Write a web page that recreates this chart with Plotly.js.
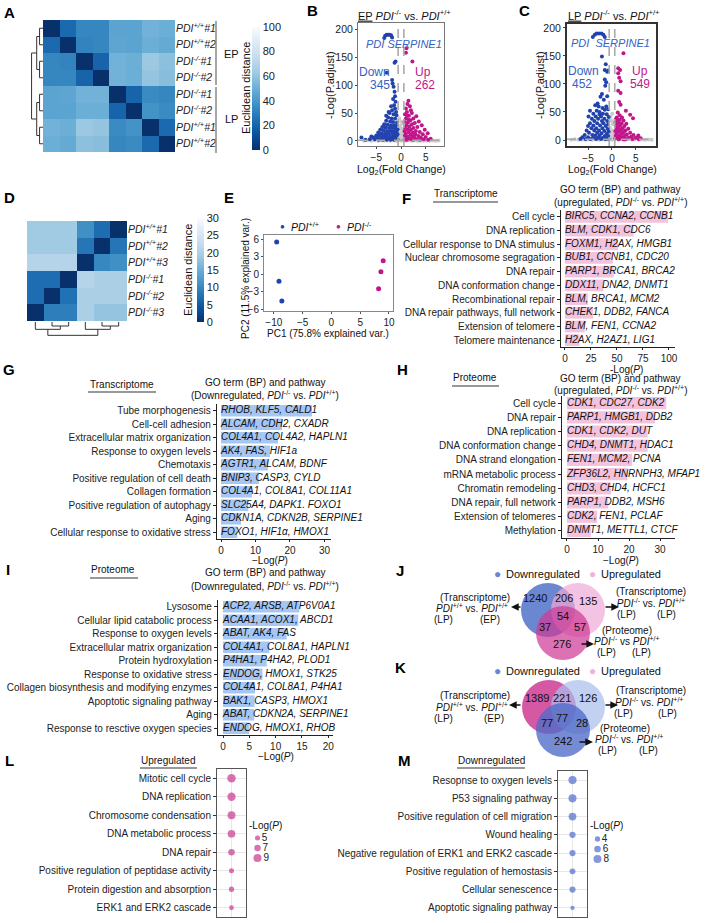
<!DOCTYPE html>
<html><head><meta charset="utf-8">
<script src="https://cdn.plot.ly/plotly-3.0.1.min.js"></script>
<style>html,body{margin:0;padding:0;background:#fff}#chart{width:709px;height:923px}</style>
</head><body><div id="chart"></div>
<script>
// ---------------- DATA ----------------
const heatA_labels = ['<i>PDI<sup>+/+</sup>#1</i>','<i>PDI<sup>+/+</sup>#2</i>','<i>PDI<sup>-/-</sup>#1</i>','<i>PDI<sup>-/-</sup>#2</i>','<i>PDI<sup>-/-</sup>#1</i>','<i>PDI<sup>-/-</sup>#2</i>','<i>PDI<sup>+/+</sup>#1</i>','<i>PDI<sup>+/+</sup>#2</i>'];
const heatA_z = [
 [0,22,33,33,45,45,52,50],
 [22,0,32,33,46,45,50,48],
 [33,32,0,20,52,50,62,58],
 [33,33,20,0,52,50,60,57],
 [45,46,52,52,0,20,35,33],
 [45,45,50,50,20,0,38,35],
 [52,50,62,60,35,38,0,22],
 [50,48,58,57,33,35,22,0]];
const dendroA = [[0,1,0.3],[2,3,0.3],[4,5,0.3],[6,7,0.3],[8,9,0.55],[10,11,0.55],[12,13,1.0]];

const heatD_labels = ['<i>PDI<sup>+/+</sup>#1</i>','<i>PDI<sup>+/+</sup>#2</i>','<i>PDI<sup>+/+</sup>#3</i>','<i>PDI<sup>-/-</sup>#1</i>','<i>PDI<sup>-/-</sup>#2</i>','<i>PDI<sup>-/-</sup>#3</i>'];
const heatD_z = [
 [19,19,19,11,7,0],
 [19,19,19,8,0,8],
 [21,21,21,0,10,11],
 [7,7,0,21,20,20],
 [7,0,7.5,20,20,20],
 [0,9,9,20,18,18]];
const dendroD = [[1,2,0.3],[0,6,0.55],[4,5,0.3],[3,8,0.55],[7,9,1.0]];

// volcano B (EP)
const volB_down = [[-3.4,184],[-3.2,188],[-2.9,190],[-2.6,190],[-2.3,190],[-2.0,189],[-1.8,185],
 [-1.1,142],[-1.3,140],[-2.9,122],[-1.8,109],[-1.7,103],[-1.5,97],[-1.3,88],[-1.2,80],[-1.6,75],[-1.1,70],[-1.4,64],[-2.0,62],[-1.2,58],[-1.8,55],[-1.0,52],[-2.3,50],[-1.5,48],[-0.9,46],
 [-2.6,42],[-1.9,40],[-1.2,40],[-3.0,36],[-2.2,35],[-1.6,34],[-0.8,33],[-3.4,30],[-2.7,29],[-2.0,28],[-1.3,28],[-0.9,27],[-3.8,25],[-3.1,24],[-2.4,23],[-1.7,23],[-1.1,22],[-0.7,21],
 [-4.2,20],[-3.5,19],[-2.8,18],[-2.1,18],[-1.5,17],[-0.9,16],[-4.6,15],[-3.9,14],[-3.2,14],[-2.5,13],[-1.8,13],[-1.2,12],[-0.7,12],[-5.0,10],[-4.3,10],[-3.6,9],[-2.9,9],[-2.2,8],[-1.5,8],[-0.9,7],
 [-5.6,6],[-4.8,6],[-4.0,5],[-3.3,5],[-2.6,4],[-1.9,4],[-1.2,4],[-0.7,3],[-6.3,3],[-5.3,3],[-4.5,2],[-3.7,2],[-2.9,2],[-2.1,2],[-1.4,2],[-8.0,6],[-7.2,2],[-6.0,8],[-3.0,45],[-2.5,52]];
const volB_up = [[1.1,166],[1.0,158],[2.3,142],[1.5,72],[1.3,66],[1.8,62],[1.0,58],[1.2,52],[2.2,50],[0.8,48],[1.6,45],[3.1,44],[2.5,40],[1.0,40],[1.9,37],[3.6,35],[0.7,34],[1.4,33],[2.8,32],[2.2,30],
 [4.2,28],[1.1,28],[1.7,26],[3.3,25],[0.8,24],[2.5,23],[4.8,20],[1.3,21],[2.0,20],[3.0,18],[0.7,18],[3.8,16],[1.6,16],[2.4,15],[5.4,14],[1.0,14],[4.4,12],[2.9,12],[1.9,11],[0.8,10],
 [3.5,9],[2.3,9],[1.3,8],[5.0,7],[4.0,6],[2.7,6],[1.7,5],[0.9,5],[6.0,4],[4.6,3],[3.2,3],[2.1,3],[1.2,2],[5.5,2],[3.8,2],[2.5,2],[0.7,2],[1.5,38],[2.0,55],[1.2,45]];
const volB_ns = [[-7.5,0.5],[-6.8,1.5],[-6.0,0.4],[-5.3,1.2],[-4.6,0.3],[-4.0,1.4],[-3.4,0.6],[-2.8,1.0],[-2.2,0.3],[-1.6,1.1],[-1.0,0.5],[-0.5,0.9],[0.0,0.4],[0.5,1.2],[1.0,0.3],[1.6,0.9],[2.2,0.5],[2.8,1.1],[3.4,0.2],[4.0,0.8],[4.6,0.4],[5.2,1.0],[5.8,0.3],[6.4,0.9],[7.0,0.4],[7.6,0.7],
 [-0.45,4],[-0.3,9],[-0.1,14],[0.2,6],[0.35,11],[-0.4,18],[0.1,22],[0.45,16],[-0.2,27],[0.3,31],[-0.5,24],[0.0,35],[-0.35,40],[0.25,3]];

// volcano C (LP)
const volC_down = [[-4.0,184],[-3.6,188],[-3.2,190],[-2.7,190],[-2.2,190],[-1.8,188],[-1.5,184],[-2.1,149],[-1.3,135],[-1.5,125],[-1.0,122],[-0.8,124],[-1.5,108],[-1.2,103],[-1.4,97],[-2.1,82],[-2.4,77],[-1.0,78],[-1.7,72],[-3.5,62],[-2.8,60],[-1.2,60],[-2.0,57],
 [-4.6,52],[-3.2,52],[-1.5,54],[-0.8,55],[-2.6,50],[-3.9,47],[-1.9,47],[-1.1,46],[-4.9,42],[-3.4,42],[-2.3,42],[-0.7,41],[-4.2,38],[-2.9,38],[-1.6,38],[-3.7,34],[-2.1,34],[-1.0,34],[-4.6,30],[-3.1,30],[-1.8,30],[-0.8,28],
 [-5.0,25],[-3.9,26],[-2.5,26],[-1.3,25],[-4.3,21],[-3.3,21],[-2.0,21],[-0.9,20],[-5.3,17],[-3.7,17],[-2.7,17],[-1.6,16],[-0.7,15],[-4.8,13],[-3.1,13],[-2.2,12],[-1.1,11],[-5.7,9],[-4.1,9],[-3.5,8],[-2.6,8],[-1.5,7],[-0.8,7],
 [-6.2,5],[-5.0,5],[-3.9,4],[-2.9,4],[-1.9,4],[-1.0,3],[-6.6,2],[-5.5,2],[-4.5,2],[-3.3,2],[-2.3,2],[-1.4,2],[-0.7,2],[-2.6,46],[-3.0,65]];
const volC_up = [[2.4,155],[1.3,128],[1.7,125],[1.3,119],[1.5,111],[1.8,105],[1.3,88],[1.8,84],[1.5,68],[1.8,63],[1.2,49],[2.9,52],[3.8,45],[4.4,39],[1.0,40],[0.8,37],[1.6,36],[2.4,35],[0.7,32],[1.3,31],[2.0,30],[3.0,29],
 [1.0,27],[1.7,26],[2.6,25],[0.8,23],[1.4,22],[2.2,21],[3.4,20],[1.1,19],[1.9,18],[2.8,17],[0.7,16],[1.5,15],[2.4,14],[3.8,13],[1.0,12],[2.0,11],[3.1,10],[4.5,9],[5.5,8],[0.8,8],[1.6,8],[2.6,7],[4.0,6],
 [1.2,5],[2.2,5],[3.4,4],[5.0,4],[6.0,3],[0.7,3],[1.8,3],[2.9,2],[4.3,2],[5.6,2],[1.4,1.5],[2.4,1.5],[1.2,34],[2.1,40],[1.6,44]];
const volC_ns = [[-8.5,0.6],[-7.8,1.4],[-7.0,0.3],[-6.2,1.1],[-5.5,0.5],[-4.8,1.3],[-4.1,0.4],[-3.4,0.9],[-2.7,0.3],[-2.0,1.2],[-1.3,0.5],[-0.6,1.0],[0.0,0.3],[0.6,1.1],[1.3,0.4],[2.0,0.9],[2.7,0.2],[3.4,1.2],[4.1,0.5],[4.8,0.8],[5.5,0.3],[6.2,1.0],[6.9,0.5],[7.6,0.9],[8.3,0.4],
 [-0.4,5],[-0.2,11],[0.1,17],[0.35,7],[-0.45,22],[0.2,28],[-0.1,34],[0.4,14],[-0.3,41],[0.05,47],[0.3,3],[-0.5,9]];
const FC_CUT = 0.58, P_CUT = 1.3;

// PCA (E)
const pcaWT_x = [-9.5,-9.1,-8.6], pcaWT_y = [5.5,-1.2,-4.6];
const pcaKO_x = [9.0,8.6,8.2],   pcaKO_y = [2.3,0.4,-2.5];

// GO bars
const F_terms = ['Cell cycle','DNA replication','Cellular response to DNA stimulus','Nuclear chromosome segragation','DNA repair','DNA conformation change','Recombinational repair','DNA repair pathways, full network','Extension of telomere','Telomere maintenance'];
const F_vals = [99,66,51,46,47,37,22,27,19,14];
const F_genes = ['BIRC5, CCNA2, CCNB1','BLM, CDK1, CDC6','FOXM1, H2AX, HMGB1','BUB1, CCNB1, CDC20','PARP1, BRCA1, BRCA2','DDX11, DNA2, DNMT1','BLM, BRCA1, MCM2','CHEK1, DDB2, FANCA','BLM, FEN1, CCNA2','H2AX, H2AZ1, LIG1'];

const G_terms = ['Tube morphogenesis','Cell-cell adhesion','Extracellular matrix organization','Response to oxygen levels','Chemotaxis','Positive regulation of cell death','Collagen formation','Positive regulation of autophagy','Aging','Cellular response to oxidative stress'];
const G_vals = [26.4,17.7,16.5,14.2,13.6,11,9,7.9,5.8,4.7];
const G_genes = ['RHOB, KLF5, CALD1','ALCAM, CDH2, CXADR','COL4A1, COL4A2, HAPLN1','AK4, FAS, HIF1a','AGTR1, ALCAM, BDNF','BNIP3, CASP3, CYLD','COL4A1, COL8A1, COL11A1','SLC25A4, DAPK1. FOXO1','CDKN1A, CDKN2B, SERPINE1','FOXO1, HIF1\u03b1, HMOX1'];

const H_terms = ['Cell cycle','DNA repair','DNA replication','DNA conformation change','DNA strand elongation','mRNA metabolic process','Chromatin remodeling','DNA repair, full network','Extension of telomeres','Methylation'];
const H_vals = [32,28.4,26,26,21,19.5,14.2,13.3,9.7,7.7];
const H_genes = ['CDK1, CDC27, CDK2','PARP1, HMGB1, DDB2','CDK1, CDK2, DUT','CHD4, DNMT1, HDAC1','FEN1, MCM2, PCNA','ZFP36L2, HNRNPH3, MFAP1','CHD3, CHD4, HCFC1','PARP1, DDB2, MSH6','CDK2, FEN1, PCLAF','DNMT1, METTL1, CTCF'];

const I_terms = ['Lysosome','Cellular lipid catabolic process','Response to oxygen levels','Extracellular matrix organization','Protein hydroxylation','Response to oxidative stress','Collagen biosynthesis and modifying enzymes','Apoptotic signaling pathway','Aging','Response to resctive oxygen species'];
const I_vals = [14.5,14.3,12.1,8.8,8.3,7.5,6.1,6.0,5.9,5.0];
const I_genes = ['ACP2, ARSB, ATP6V0A1','ACAA1, ACOX1, ABCD1','ABAT, AK4, FAS','COL4A1, COL8A1, HAPLN1','P4HA1, P4HA2, PLOD1','ENDOG, HMOX1, STK25','COL4A1, COL8A1, P4HA1','BAK1, CASP3, HMOX1','ABAT, CDKN2A, SERPINE1','ENDOG, HMOX1, RHOB'];

// Venn
const vennJ_counts = ['1240','206','135','54','37','57','276'];
const vennK_counts = ['1389','221','126','77','77','28','242'];

// Dot plots
const L_terms = ['Mitotic cell cycle','DNA replication','Chromosome condensation','DNA metabolic process','DNA repair','Positive regulation of peptidase activity','Protein digestion and absorption','ERK1 and ERK2 cascade'];
const L_vals = [9.6,9.3,8.8,8.6,7.0,5.0,5.4,4.6];
const L_legend = [5,7,9];
const M_terms = ['Resopnse to oxygen levels','P53 signaling pathway','Positive regulation of cell migration','Wound healing','Negative regulation of ERK1 and ERK2 cascade','Positive regulation of hemostasis','Cellular senescence','Apoptotic signaling pathway'];
const M_vals = [8.2,8.0,7.6,5.4,5.3,4.8,5.2,2.6];
const M_legend = [4,6,8];

// ---------------- STYLE / LAYOUT ----------------
const W=709, H=923;
const X = v => v/W, Y = v => 1 - v/H;
const FONT = 'Liberation Sans, Arial, Helvetica, sans-serif';
const BLUE='#2242ad', MAG='#c0168a', GREY='#c9c9c9';
const blues = [[0,'#08306b'],[0.125,'#08519c'],[0.25,'#2171b5'],[0.375,'#4292c6'],[0.5,'#6baed6'],[0.625,'#9ecae1'],[0.75,'#c6dbef'],[0.875,'#deebf7'],[1,'#f7fbff']];

const layout = {width:W,height:H,margin:{l:0,r:0,t:0,b:0},paper_bgcolor:'#fff',plot_bgcolor:'rgba(0,0,0,0)',
  showlegend:false,font:{family:FONT,size:10,color:'#111'},annotations:[],shapes:[]};
const traces = [];

function axes(n,x0,x1,y0,y1,xo,yo){
  const xk = n===1?'xaxis':'xaxis'+n, yk = n===1?'yaxis':'yaxis'+n;
  const base = {showgrid:false, zeroline:false, fixedrange:true, ticks:'', showticklabels:false, showline:false};
  layout[xk] = Object.assign({}, base, {domain:[X(x0),X(x1)], anchor: n===1?'y':'y'+n}, xo||{});
  layout[yk] = Object.assign({}, base, {domain:[Y(y1),Y(y0)], anchor: n===1?'x':'x'+n}, yo||{});
  return {xaxis: n===1?'x':'x'+n, yaxis: n===1?'y':'y'+n};
}
function T(x,y,text,o){ const f = Object.assign({size:10,color:'#111'}, (o&&o.font)||{});
  const a = Object.assign({xref:'paper',yref:'paper',x:X(x),y:Y(y),text,showarrow:false,xanchor:'center',yanchor:'middle'}, o||{}); a.font=f; layout.annotations.push(a); }
function ARR(tx,ty,sx,sy){ layout.annotations.push({xref:'paper',yref:'paper',x:X(tx),y:Y(ty),axref:'paper',ayref:'paper',ax:X(sx),ay:Y(sy),text:'',showarrow:true,arrowhead:2,arrowsize:1.1,arrowwidth:1.4,arrowcolor:'#111'}); }
function LN(x0,y0,x1,y1,color,w,dash){ layout.shapes.push({type:'line',xref:'paper',yref:'paper',x0:X(x0),y0:Y(y0),x1:X(x1),y1:Y(y1),line:{color,width:w,dash:dash||'solid'}}); }
function CIR(cx,cy,r,fill){ layout.shapes.push({type:'circle',xref:'paper',yref:'paper',x0:X(cx-r),x1:X(cx+r),y0:Y(cy+r),y1:Y(cy-r),fillcolor:fill,line:{width:0}}); }
function dendro(merges,n){ const pos=[...Array(n).keys()], ht=new Array(n).fill(0), h=[], p=[];
  merges.forEach(([a,b,hh])=>{ h.push(ht[a],hh,hh,ht[b],null); p.push(pos[a],pos[a],pos[b],pos[b],null); pos.push((pos[a]+pos[b])/2); ht.push(hh); });
  return {h,p}; }
const idx = n => [...Array(n).keys()];

// ---- A heatmap
let a = axes(1,43,175,20,152,{range:[-0.5,7.5]},{range:[7.5,-0.5],side:'right',showticklabels:true,tickvals:idx(8),ticktext:heatA_labels,tickfont:{size:10.5,color:'#222'}});
traces.push(Object.assign({type:'heatmap',z:heatA_z,x:idx(8),y:idx(8),colorscale:blues,zmin:0,zmax:100,
  colorbar:{x:X(252),xanchor:'left',xpad:0,ypad:0,y:Y(88.5),yanchor:'middle',len:123,lenmode:'pixels',thickness:8,outlinewidth:0,tickvals:[0,20,40,60,80,100],ticks:'',tickfont:{size:11,color:'#222'}}},a));
a = axes(2,31,43,20,152,{range:[1.05,0]},{range:[7.5,-0.5]});
let dA = dendro(dendroA,8);
traces.push(Object.assign({type:'scatter',mode:'lines',x:dA.h,y:dA.p,line:{color:'#333',width:1}},a));
LN(216,21,216,85,'#888',1.5); LN(216,87,216,153,'#888',1.5);
T(231,54,'EP',{font:{size:11}}); T(231,119,'LP',{font:{size:11}});
T(246,88,'Euclidean distance',{textangle:-90,font:{size:11}});

// ---- B / C volcano
function volcano(n,box,xr,yr,lc,lw,ns,dn,up){
  const ax = {showline:true,mirror:true,linecolor:lc,linewidth:lw,ticks:'outside',ticklen:2,tickcolor:'#444',showticklabels:true,tickfont:{size:10.5,color:'#222'}};
  const xa = Object.assign({range:xr,tickvals:[-5,0,5]},ax,{tickfont:{size:10,color:'#222'}});
  const r = axes(n,box[0],box[1],box[2],box[3],xa,Object.assign({range:yr,tickvals:[0,50,100,150,200]},ax));
  [[ns,GREY],[dn,BLUE],[up,MAG]].forEach(([d,c])=>traces.push(Object.assign({type:'scatter',mode:'markers',x:d.map(p=>p[0]),y:d.map(p=>p[1]),marker:{size:4,color:c,line:{width:0}}},r)));
  [-FC_CUT,FC_CUT].forEach(v=>layout.shapes.push({type:'line',xref:r.xaxis,yref:r.yaxis+' domain',x0:v,x1:v,y0:0,y1:1,line:{color:'#aaa',width:1.6,dash:'dash'}}));
  layout.shapes.push({type:'line',xref:r.xaxis+' domain',yref:r.yaxis,x0:0,x1:1,y0:P_CUT,y1:P_CUT,line:{color:'#aaa',width:1.6,dash:'dash'}});
}
volcano(3,[358,444,23,146],[-8.7,8.7],[-9,211],'#777',1,volB_ns,volB_down,volB_up);
volcano(4,[567,656,24,146],[-9.4,9.2],[-10.7,207],'#333',2,volC_ns,volC_down,volC_up);
const ttl = (p)=>'<u>'+p+'</u> <i>PDI</i><sup>-/-</sup> vs. <i>PDI</i><sup>+/+</sup>';
T(404,15,ttl('EP'),{font:{size:11}}); T(614,15,ttl('LP'),{font:{size:11}});
T(330,85,'-Log(P.adjust)',{textangle:-90,font:{size:11}}); T(540,85,'-Log(P.adjust)',{textangle:-90,font:{size:11}});
T(401,170,'Log<sub>2</sub>(Fold Change)',{font:{size:10.5}}); T(612,170,'Log<sub>2</sub>(Fold Change)',{font:{size:10.5}});
const LBL='#3462c4';
T(404,44,'<i>PDI SERPINE1</i>',{font:{size:11,color:LBL}}); T(610,43,'<i>PDI  SERPINE1</i>',{font:{size:11,color:LBL}});
T(375,72,'Down',{font:{size:12,color:LBL}}); T(380,85,'345',{font:{size:12,color:LBL}});
T(423,72,'Up',{font:{size:12,color:MAG}}); T(425,85,'262',{font:{size:12,color:MAG}});
T(583,71,'Down',{font:{size:12,color:LBL}}); T(582,84,'452',{font:{size:12,color:LBL}});
T(640,71,'Up',{font:{size:12,color:MAG}}); T(640,84,'549',{font:{size:12,color:MAG}});

// ---- D heatmap
a = axes(5,27,127,221,321,{range:[-0.5,5.5]},{range:[5.5,-0.5],side:'right',showticklabels:true,tickvals:idx(6),ticktext:heatD_labels,tickfont:{size:10.5,color:'#222'}});
traces.push(Object.assign({type:'heatmap',z:heatD_z,x:idx(6),y:idx(6),colorscale:blues,zmin:0,zmax:30,
  colorbar:{x:X(197),xanchor:'left',xpad:0,ypad:0,y:Y(270),yanchor:'middle',len:104,lenmode:'pixels',thickness:7,outlinewidth:0,tickvals:[0,5,10,15,20,25,30],ticks:'',tickfont:{size:11,color:'#222'}}},a));
a = axes(6,27,127,322,336,{range:[-0.5,5.5]},{range:[1.05,0]});
let dD = dendro(dendroD,6);
traces.push(Object.assign({type:'scatter',mode:'lines',x:dD.p,y:dD.h,line:{color:'#333',width:1}},a));
T(188,270,'Euclidean distance',{textangle:-90,font:{size:11}});

// ---- E PCA
const boxE = {showline:true,mirror:true,linecolor:'#888',linewidth:1,ticks:'outside',ticklen:2,tickcolor:'#555',showticklabels:true,tickfont:{size:10,color:'#222'}};
a = axes(7,264,393,235,311,Object.assign({range:[-11.7,10.7],tickvals:[-10,-5,0,5,10]},boxE),Object.assign({range:[-6.3,6.7],tickvals:[-6,-3,0,3,6]},boxE));
traces.push(Object.assign({type:'scatter',mode:'markers',x:pcaWT_x,y:pcaWT_y,marker:{size:5,color:BLUE}},a));
traces.push(Object.assign({type:'scatter',mode:'markers',x:pcaKO_x,y:pcaKO_y,marker:{size:5,color:MAG}},a));
T(282,227,'\u25CF',{font:{size:8,color:BLUE}}); T(289,227,'<i>PDI</i><sup>+/+</sup>',{xanchor:'left',font:{size:10.5}});
T(338,227,'\u25CF',{font:{size:8,color:MAG}}); T(345,227,'<i>PDI</i><sup>-/-</sup>',{xanchor:'left',font:{size:10.5}});
T(245,279,'PC2 (11.5% explained var.)',{textangle:-90,font:{size:10}});
T(328,334,'PC1 (75.8% explained var.)',{font:{size:10}});

// ---- GO bar panels
function goBars(n,box,xr,tv,terms,vals,genes,color){
  const xa = {range:xr,tickvals:tv,showline:true,linecolor:'#222',linewidth:1,ticks:'outside',ticklen:2,tickcolor:'#222',showticklabels:true,tickfont:{size:10,color:'#222'}};
  const ya = {type:'category',range:[terms.length-0.5,-0.5],showline:true,linecolor:'#222',linewidth:1.2,ticks:'outside',ticklen:3,tickcolor:'#222',showticklabels:true,tickfont:{size:10,color:'#222'}};
  const r = axes(n,box[0],box[1],box[2],box[3],xa,ya);
  traces.push(Object.assign({type:'bar',orientation:'h',x:vals,y:terms,width:0.86,marker:{color:color,line:{width:0}}},r));
  traces.push(Object.assign({type:'scatter',mode:'text',x:terms.map(()=>0),y:terms,text:genes.map(g=>'<i>'+g+'</i>'),textposition:'middle right',cliponaxis:false,textfont:{size:10,color:'#111'}},r));
}
const PINK='#f3c3dd', LBLUE='#a6c6f3';
goBars(8,[561,675,210,347],[-3.8,105.8],[0,25,50,75,100],F_terms,F_vals,F_genes,PINK);
goBars(9,[217,331,404,539],[-1.16,31.9],[0,10,20,30],G_terms,G_vals,G_genes,LBLUE);
goBars(10,[562,675,396,538],[-1.6,34.8],[0,10,20,30],H_terms,H_vals,H_genes,PINK);
goBars(11,[218,333,600,735],[-0.95,20.9],[0,5,10,15,20],I_terms,I_vals,I_genes,LBLUE);
const up = '(upregulated, <i>PDI</i><sup>-/-</sup> vs. <i>PDI</i><sup>+/+</sup>)';
const dn = '(Downregulated, <i>PDI</i><sup>-/-</sup> vs. <i>PDI</i><sup>+/+</sup>)';
T(620,189,'GO term (BP) and pathway'); T(620,202,up);
T(466,193,'Transcriptome'); LN(433,202,498,202,'#333',1.2);
T(626,370,'-Log(<i>P</i>)');
T(265,383,'GO term (BP) and pathway'); T(265,395,dn);
T(122,384,'Transcriptome'); LN(88,392,156,392,'#333',1.2);
T(270,560,'\u2212Log(<i>P</i>)');
T(620,378,'GO term (BP) and pathway'); T(620,390,up);
T(475,377,'Proteome'); LN(452,386,499,386,'#333',1.2);
T(621,560,'\u2212Log(<i>P</i>)');
T(265,572,'GO term (BP) and pathway'); T(265,586,dn);
T(113,569,'Proteome'); LN(90,578,138,578,'#333',1.2);
T(276,756,'\u2212Log(<i>P</i>)');

// ---- Venn J
CIR(548,610,27,'rgba(95,125,205,0.92)');
CIR(578,610,27,'rgba(240,168,214,0.70)');
CIR(563,633,27,'rgba(206,58,150,0.72)');
const posJ = [[535,598],[564,598],[588,601],[563,616],[545,627],[580,627],[562,644]];
vennJ_counts.forEach((c,i)=>T(posJ[i][0],posJ[i][1],c,{font:{size:11}}));
T(497,574,'\u25CF',{font:{size:12,color:'#6b86d0'}}); T(504,574,'Downregulated',{xanchor:'left',font:{size:11}});
T(592,574,'\u25CF',{font:{size:12,color:'#f0b2da'}}); T(599,574,'Upregulated',{xanchor:'left',font:{size:11}});
const wtwt = '<i>PDI</i><sup>+/+</sup> vs. <i>PDI</i><sup>+/+</sup>';
const kowt = '<i>PDI</i><sup>-/-</sup> vs. <i>PDI</i><sup>+/+</sup>';
T(475,597,'(Transcriptome)'); T(472,608,wtwt); T(443,619,'(LP)'); T(490,619,'(EP)');
T(651,591,'(Transcriptome)'); T(649,603,'.'+kowt); T(626,614,'(LP)'); T(666,614,'(LP)');
T(627,630,'(Proteome)'); T(627,641,'<i>PDI</i><sup>-/-</sup> vs <i>PDI</i><sup>+/+</sup>'); T(606,652,'(LP)'); T(641,652,'(LP)');
ARR(511,607,522,607); ARR(619,607,604,607); ARR(594,644,580,644);

// ---- Venn K
CIR(549,707,27,'rgba(208,70,155,0.9)');
CIR(578,707,27,'rgba(170,190,236,0.72)');
CIR(563,730,27,'rgba(78,108,200,0.78)');
const posK = [[537,698],[562,698],[588,698],[562,718],[547,723],[582,723],[563,741]];
vennK_counts.forEach((c,i)=>T(posK[i][0],posK[i][1],c,{font:{size:11}}));
T(497,671,'\u25CF',{font:{size:12,color:'#6b86d0'}}); T(504,671,'Downregulated',{xanchor:'left',font:{size:11}});
T(592,671,'\u25CF',{font:{size:12,color:'#f0b2da'}}); T(599,671,'Upregulated',{xanchor:'left',font:{size:11}});
T(475,695,'(Transcriptome)'); T(472,707,wtwt); T(443,718,'(LP)'); T(494,718,'(EP)');
T(651,690,'(Transcriptome)'); T(649,702,kowt); T(623,713,'(LP)'); T(667,713,'(LP)');
T(625,728,'(Proteome)'); T(629,739,kowt); T(607,750,'(LP)'); T(648,750,'(LP)');
ARR(509,705,522,705); ARR(618,705,604,705); ARR(593,742,578,742);

// ---- L / M dot plots
function dotPlot(n,box,terms,vals,sizeFn,color,ln,lbox,legVals){
  const xa = {range:[-1,1],tickvals:[0],showgrid:true,gridcolor:'#e8e8e8',gridwidth:1,showline:true,mirror:true,linecolor:'#555',linewidth:1};
  const ya = {type:'category',range:[terms.length-0.5,-0.5],showgrid:true,gridcolor:'#e8e8e8',showline:true,mirror:true,linecolor:'#555',linewidth:1,ticks:'outside',ticklen:3,tickcolor:'#333',showticklabels:true,tickfont:{size:10,color:'#222'}};
  const r = axes(n,box[0],box[1],box[2],box[3],xa,ya);
  traces.push(Object.assign({type:'scatter',mode:'markers',x:terms.map(()=>0),y:terms,marker:{size:vals.map(sizeFn),color,line:{width:0}}},r));
  const r2 = axes(ln,lbox[0],lbox[1],lbox[2],lbox[3],{range:[-1,1]},{range:[2.5,-0.5]});
  traces.push(Object.assign({type:'scatter',mode:'markers+text',x:legVals.map(()=>0),y:idx(legVals.length),marker:{size:legVals.map(sizeFn),color,line:{width:0}},text:legVals.map(String),textposition:'middle right',cliponaxis:false,textfont:{size:10,color:'#222'}},r2));
}
dotPlot(12,[217,246,769,917],L_terms,L_vals,v=>0.75*v+1.3,'#c8388f',14,[253,262,833,863],L_legend);
dotPlot(13,[558,587,771,917],M_terms,M_vals,v=>0.68*v+2.6,'#4f6bcb',15,[593,602,834,864],M_legend);
T(168,760,'Upregulated'); LN(140,768,197,768,'#333',1.2);
T(491,760,'Downregulated'); LN(457,768,525,768,'#333',1.2);
T(265,825,'-Log(<i>P</i>)'); T(606,825,'-Log(<i>P</i>)');

// ---- panel letters
[['A',9,13],['B',312,11],['C',524,11],['D',9,198],['E',229,198],['F',406,199],['G',9,370],['H',402,370],['I',8,569],['J',400,570],['K',400,667],['L',9,760],['M',404,760]]
 .forEach(([t,x,y])=>T(x,y,'<b>'+t+'</b>',{font:{size:15,color:'#000'}}));

Plotly.newPlot('chart',traces,layout,{staticPlot:true,displayModeBar:false});
</script></body></html>
